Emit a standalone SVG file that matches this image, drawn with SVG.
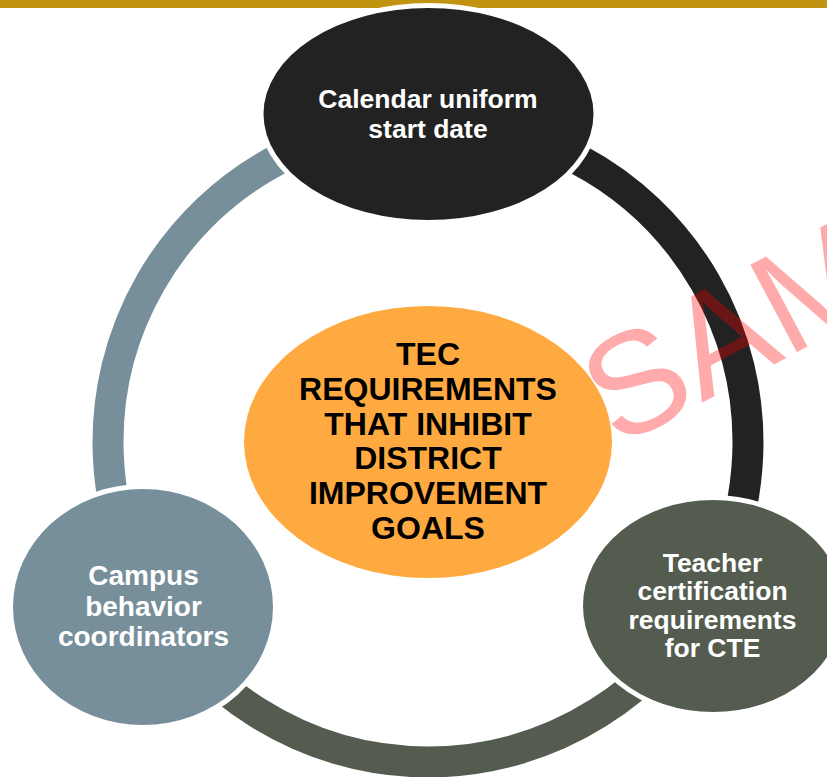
<svg xmlns="http://www.w3.org/2000/svg" width="827" height="777" viewBox="0 0 827 777">
<style>
.arc{fill:none;stroke-width:31;stroke-linecap:butt}
.node{stroke:#FFFFFF;stroke-width:10;paint-order:stroke}
.lbl{font-family:"Liberation Sans",Arial,sans-serif;font-weight:bold;text-anchor:middle}
.w{fill:#FFFFFF}
.k{fill:#000000}
</style>
<rect x="0" y="0" width="827" height="777" fill="#FFFFFF"/>
<rect x="0" y="0" width="827" height="8" fill="#C09410"/>
<g id="connectors">
<path class="arc" stroke="#778F9A" d="M 150.9 602 A 320 320 0 0 1 428 122"/>
<path class="arc" stroke="#222222" d="M 428 122 A 320 320 0 0 1 705.1 602"/>
<path class="arc" stroke="#545C4F" d="M 705.1 602 A 320 320 0 0 1 150.9 602"/>
</g>
<g id="node-top">
<ellipse class="node" cx="428.5" cy="114" rx="165" ry="106" fill="#222222"/>
<text class="lbl w" font-size="26.5" x="428" y="108">Calendar uniform</text>
<text class="lbl w" font-size="26.5" x="428" y="137.5">start date</text>
</g>
<g id="node-left">
<ellipse class="node" cx="143" cy="607" rx="130" ry="118" fill="#778F9A"/>
<text class="lbl w" font-size="28" x="143.5" y="585">Campus</text>
<text class="lbl w" font-size="28" x="143.5" y="615.5">behavior</text>
<text class="lbl w" font-size="28" x="143.5" y="645.8">coordinators</text>
</g>
<g id="node-right">
<ellipse class="node" cx="713" cy="606" rx="130" ry="106" fill="#545C4F"/>
<text class="lbl w" font-size="26.5" x="712.5" y="571.7">Teacher</text>
<text class="lbl w" font-size="26.5" x="712.5" y="600.2">certification</text>
<text class="lbl w" font-size="26.5" x="712.5" y="628.7">requirements</text>
<text class="lbl w" font-size="26.5" x="712.5" y="657.2">for CTE</text>
</g>
<g id="node-center">
<ellipse cx="428" cy="442" rx="184" ry="136" fill="#FFAA40"/>
<text class="lbl k" font-size="32" x="428" y="365">TEC</text>
<text class="lbl k" font-size="32" x="428" y="399.8">REQUIREMENTS</text>
<text class="lbl k" font-size="32" x="428" y="434.6">THAT INHIBIT</text>
<text class="lbl k" font-size="32" x="428" y="469.4">DISTRICT</text>
<text class="lbl k" font-size="32" x="428" y="504.2">IMPROVEMENT</text>
<text class="lbl k" font-size="32" x="428" y="539">GOALS</text>
</g>
<text x="617" y="448" transform="rotate(-28 617 448)" font-family="&quot;Liberation Sans&quot;,Arial,sans-serif" font-size="144" fill="#FF0000" fill-opacity="0.33">SAM</text>
</svg>
